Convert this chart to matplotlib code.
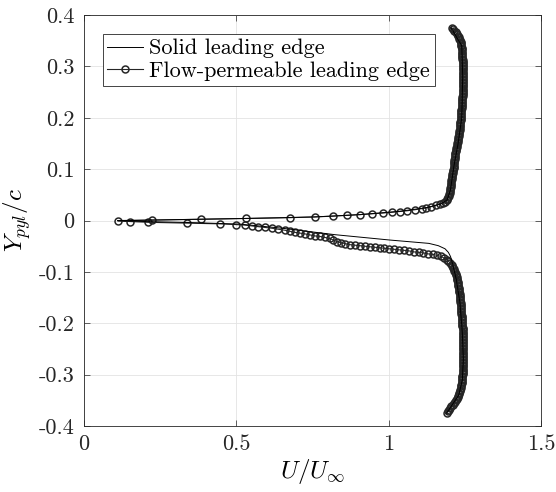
"""
Wake velocity profile: solid vs flow-permeable leading edge.
MATLAB-like styling, Computer Modern text.
"""

import matplotlib

matplotlib.use("Agg")  # no display
import matplotlib.pyplot as plt
import numpy as np

# ---- flow-permeable leading edge (circles), ordered top -> bottom ----
# free stream above the wake
perm_top_y = [0.375, 0.372, 0.369, 0.366, 0.363, 0.360, 0.357, 0.354, 0.351, 0.348,
              0.345, 0.342, 0.339, 0.336, 0.333, 0.330, 0.327, 0.324, 0.321, 0.318,
              0.315, 0.312, 0.309, 0.306, 0.303, 0.300, 0.297, 0.294, 0.291, 0.288,
              0.285, 0.282, 0.279, 0.276, 0.273, 0.270, 0.267, 0.264, 0.261, 0.258,
              0.255, 0.252, 0.249, 0.246, 0.243, 0.240, 0.237, 0.234, 0.231, 0.228,
              0.225, 0.222, 0.219, 0.216, 0.213, 0.210, 0.207, 0.204, 0.201, 0.198,
              0.195, 0.192, 0.189, 0.186, 0.183, 0.180, 0.177, 0.174, 0.171, 0.168,
              0.165, 0.162, 0.159, 0.156, 0.153, 0.150, 0.147, 0.144, 0.141, 0.138,
              0.135, 0.132, 0.129, 0.126, 0.123, 0.120, 0.117, 0.114, 0.111, 0.108,
              0.105, 0.102, 0.099, 0.096, 0.093, 0.090, 0.087, 0.084, 0.081, 0.078,
              0.075, 0.072, 0.069, 0.066, 0.063, 0.060, 0.057, 0.054, 0.051, 0.048,
              0.045, 0.042, 0.039]
perm_top_u = [1.207, 1.212, 1.216, 1.220, 1.224, 1.227, 1.230, 1.232, 1.234, 1.236,
              1.237, 1.238, 1.239, 1.240, 1.240, 1.241, 1.241, 1.242, 1.242, 1.242,
              1.242, 1.243, 1.243, 1.243, 1.243, 1.243, 1.243, 1.244, 1.244, 1.244,
              1.244, 1.244, 1.244, 1.244, 1.244, 1.244, 1.244, 1.243, 1.243, 1.243,
              1.243, 1.243, 1.243, 1.243, 1.243, 1.242, 1.242, 1.242, 1.242, 1.241,
              1.241, 1.240, 1.240, 1.239, 1.239, 1.238, 1.238, 1.237, 1.237, 1.236,
              1.236, 1.235, 1.235, 1.234, 1.234, 1.233, 1.233, 1.232, 1.232, 1.231,
              1.230, 1.229, 1.228, 1.227, 1.226, 1.225, 1.224, 1.223, 1.222, 1.221,
              1.220, 1.219, 1.219, 1.218, 1.218, 1.217, 1.216, 1.215, 1.215, 1.214,
              1.214, 1.213, 1.212, 1.211, 1.210, 1.209, 1.208, 1.207, 1.207, 1.206,
              1.205, 1.204, 1.204, 1.203, 1.202, 1.201, 1.201, 1.200, 1.199, 1.197,
              1.195, 1.193, 1.190]

# upper half of the wake
perm_wake_up_y = [0.036, 0.034, 0.032, 0.030, 0.027, 0.025, 0.023, 0.021, 0.019, 0.0175,
                  0.016, 0.0145, 0.013, 0.0115, 0.010, 0.0085, 0.007, 0.0055, 0.004,
                  0.0025, 0.001, -0.0005]
perm_wake_up_u = [1.184, 1.177, 1.168, 1.157, 1.140, 1.124, 1.108, 1.086, 1.061, 1.037,
                  1.010, 0.980, 0.944, 0.906, 0.864, 0.818, 0.758, 0.676, 0.531,
                  0.383, 0.222, 0.110]

# lower half of the wake
perm_wake_lo_y = [-0.002, -0.0035, -0.005, -0.0065, -0.008, -0.009, -0.0105, -0.012,
                  -0.0135, -0.015, -0.017, -0.019, -0.021, -0.023, -0.0245, -0.026,
                  -0.028, -0.030, -0.031, -0.033, -0.035, -0.038, -0.041, -0.043,
                  -0.045, -0.047, -0.048, -0.049, -0.050, -0.051, -0.052, -0.053,
                  -0.054, -0.055, -0.056, -0.057, -0.058, -0.059, -0.061, -0.062,
                  -0.063, -0.065, -0.066, -0.068, -0.070, -0.073, -0.076, -0.079,
                  -0.082, -0.086]
perm_wake_lo_u = [0.151, 0.211, 0.337, 0.446, 0.500, 0.528, 0.550, 0.572,
                  0.594, 0.616, 0.638, 0.660, 0.676, 0.692, 0.709, 0.725,
                  0.742, 0.758, 0.775, 0.791, 0.807, 0.818, 0.830, 0.842,
                  0.857, 0.873, 0.889, 0.906, 0.922, 0.938, 0.954, 0.970,
                  0.986, 1.002, 1.018, 1.034, 1.050, 1.066, 1.082, 1.098,
                  1.114, 1.130, 1.146, 1.160, 1.172, 1.182, 1.190, 1.196,
                  1.201, 1.207]

# free stream below the wake
perm_bot_y = [-0.089, -0.092, -0.095, -0.098, -0.101, -0.104, -0.107, -0.110, -0.113, -0.116,
              -0.119, -0.122, -0.125, -0.128, -0.131, -0.134, -0.137, -0.140, -0.143, -0.146,
              -0.149, -0.152, -0.155, -0.158, -0.161, -0.164, -0.167, -0.170, -0.173, -0.176,
              -0.179, -0.182, -0.185, -0.188, -0.191, -0.194, -0.197, -0.200, -0.203, -0.206,
              -0.209, -0.212, -0.215, -0.218, -0.221, -0.224, -0.227, -0.230, -0.233, -0.236,
              -0.239, -0.242, -0.245, -0.248, -0.251, -0.254, -0.257, -0.260, -0.263, -0.266,
              -0.269, -0.272, -0.275, -0.278, -0.281, -0.284, -0.287, -0.290, -0.293, -0.296,
              -0.299, -0.302, -0.305, -0.308, -0.311, -0.314, -0.317, -0.320, -0.323, -0.326,
              -0.329, -0.332, -0.335, -0.338, -0.341, -0.344, -0.347, -0.350, -0.353, -0.356,
              -0.359, -0.362, -0.365, -0.368, -0.371, -0.374]
perm_bot_u = [1.209, 1.212, 1.214, 1.216, 1.218, 1.220, 1.222, 1.223, 1.224, 1.225,
              1.226, 1.227, 1.228, 1.229, 1.230, 1.231, 1.232, 1.232, 1.233, 1.233,
              1.234, 1.234, 1.235, 1.235, 1.236, 1.236, 1.237, 1.237, 1.238, 1.238,
              1.239, 1.239, 1.240, 1.240, 1.241, 1.241, 1.241, 1.242, 1.242, 1.242,
              1.243, 1.243, 1.243, 1.243, 1.244, 1.244, 1.244, 1.244, 1.244, 1.244,
              1.245, 1.245, 1.245, 1.245, 1.245, 1.245, 1.245, 1.245, 1.245, 1.245,
              1.245, 1.245, 1.245, 1.245, 1.245, 1.244, 1.244, 1.244, 1.244, 1.243,
              1.243, 1.242, 1.242, 1.241, 1.241, 1.240, 1.240, 1.239, 1.238, 1.237,
              1.235, 1.234, 1.232, 1.230, 1.228, 1.226, 1.224, 1.221, 1.218, 1.214,
              1.210, 1.206, 1.202, 1.198, 1.194, 1.190]

# ---- solid leading edge (thin line), ordered top -> bottom ----
solid_y = [0.375, 0.34, 0.28, 0.20, 0.15, 0.105, 0.06, 0.04, 0.032, 0.025, 0.018,
           0.0115, 0.007, 0.004, 0.001, 0.0, -0.002, -0.004, -0.007, -0.015, -0.0276,
           -0.038, -0.0445, -0.049, -0.055, -0.062, -0.070, -0.078, -0.090, -0.115,
           -0.160, -0.220, -0.270, -0.310, -0.340, -0.375]
solid_u = [1.205, 1.240, 1.243, 1.240, 1.228, 1.214, 1.203, 1.192, 1.170, 1.124, 1.037,
           0.906, 0.758, 0.531, 0.222, 0.110, 0.200, 0.350, 0.512, 0.650, 0.824,
           1.004, 1.132, 1.163, 1.185, 1.196, 1.203, 1.207, 1.212, 1.222,
           1.234, 1.242, 1.245, 1.242, 1.230, 1.190]

xticks = [0, 0.5, 1, 1.5]
xtick_labels = ["0", "0.5", "1", "1.5"]
yticks = [-0.4, -0.3, -0.2, -0.1, 0, 0.1, 0.2, 0.3, 0.4]
ytick_labels = ["-0.4", "-0.3", "-0.2", "-0.1", "0", "0.1", "0.2", "0.3", "0.4"]

plt.rcParams["font.family"] = "serif"
plt.rcParams["font.serif"] = ["cmr10"]
plt.rcParams["mathtext.fontset"] = "cm"
plt.rcParams["axes.unicode_minus"] = False

perm_y = np.concatenate([perm_top_y, perm_wake_up_y, perm_wake_lo_y, perm_bot_y])
perm_u = np.concatenate([perm_top_u, perm_wake_up_u, perm_wake_lo_u, perm_bot_u])

fig = plt.figure(figsize=(5.56, 4.92), dpi=100)
ax = fig.add_axes([0.1511, 0.1341, 0.8219, 0.8354])

h_perm, = ax.plot(perm_u, perm_y, color="#262626", lw=0.8, marker="o", ms=5.0,
                  mfc="none", mec="#262626", mew=1.1, zorder=2,
                  label="Flow-permeable leading edge")
h_solid, = ax.plot(solid_u, solid_y, color="black", lw=0.7, zorder=3,
                   label="Solid leading edge")

ax.set_xlim(0, 1.5)
ax.set_ylim(-0.4, 0.4)
ax.set_xticks(xticks)
ax.set_xticklabels(xtick_labels)
ax.set_yticks(yticks)
ax.set_yticklabels(ytick_labels)
ax.tick_params(direction="in", length=4, width=0.5, top=True, right=True,
               labelsize=16, color="#262626", labelcolor="#262626")
ax.tick_params(axis="x", pad=6)
ax.tick_params(axis="y", pad=7)
ax.grid(True, color="#e3e3e3", lw=0.6)
ax.set_axisbelow(True)
for s in ax.spines.values():
    s.set_linewidth(0.6)
    s.set_color("#262626")

ax.set_xlabel(r"$U/U_\infty$", fontsize=18, labelpad=2)
ax.set_ylabel(r"$Y_{pyl}/c$", fontsize=18, labelpad=4)

leg = ax.legend(handles=[h_solid, h_perm], loc="upper left",
                bbox_to_anchor=(102.7 / 556, 1 - 34.3 / 492),
                bbox_transform=fig.transFigure, borderaxespad=0,
                fontsize=16, fancybox=False, framealpha=1, edgecolor="#262626",
                handlelength=1.6, handletextpad=0.3, labelspacing=0.15,
                borderpad=0.2)
leg.get_frame().set_linewidth(0.6)

fig.savefig("out.png", dpi=100)
